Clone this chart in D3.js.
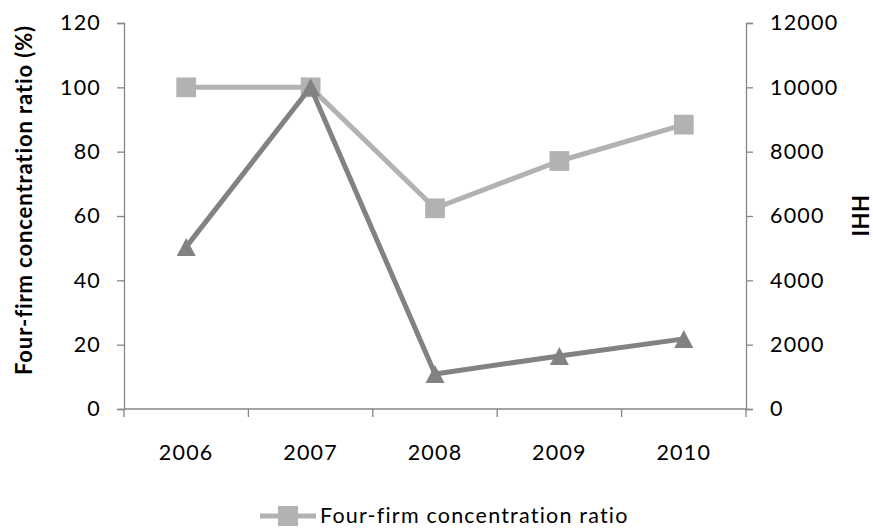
<!DOCTYPE html>
<html>
<head>
<meta charset="utf-8">
<script src="https://cdn.jsdelivr.net/npm/d3@7"></script>
<style>
  html, body { margin: 0; padding: 0; background: #fff; }
  svg { display: block; }
  text { font-family: Lato, "Open Sans", sans-serif; fill: #000; }
</style>
</head>
<body>
<svg id="chart" width="873" height="529"></svg>
<script>
// Market concentration, 2006–2010
const years = ["2006", "2007", "2008", "2009", "2010"];
const fourFirmRatio = [100, 100, 62.4, 77.1, 88.4];   // percent, left axis
const hhi = [5040, 10000, 1090, 1650, 2180];           // right axis
const leftTicks = [0, 20, 40, 60, 80, 100, 120];
const rightTicks = [0, 2000, 4000, 6000, 8000, 10000, 12000];

const svg = d3.select("#chart");
const W = 873, H = 529;
const m = { left: 124, right: 873 - 746, top: 23, bottom: 529 - 409 };

const x = d3.scaleBand().domain(years).range([m.left, W - m.right]);
const yL = d3.scaleLinear().domain([0, 120]).range([H - m.bottom, m.top]);
const yR = d3.scaleLinear().domain([0, 12000]).range([H - m.bottom, m.top]);

const axisColor = "#868686";
const fontSize = 21.5;
const spacing = "1.2px";

function styleAxis(g) {
  g.selectAll(".domain").attr("stroke", axisColor).attr("stroke-width", 1.3);
  g.selectAll(".tick line").attr("stroke", axisColor).attr("stroke-width", 1.3);
  g.selectAll(".tick text")
    .style("font-size", fontSize + "px")
    .style("letter-spacing", spacing);
}

// Left axis
svg.append("g")
  .attr("transform", `translate(${m.left},0)`)
  .call(d3.axisLeft(yL).tickValues(leftTicks).tickFormat(d3.format("d"))
    .tickSize(7).tickSizeOuter(7).tickPadding(16))
  .call(styleAxis);

// Right axis
svg.append("g")
  .attr("transform", `translate(${W - m.right},0)`)
  .call(d3.axisRight(yR).tickValues(rightTicks).tickFormat(d3.format("d"))
    .tickSize(7).tickSizeOuter(7).tickPadding(17))
  .call(styleAxis);

// Bottom axis: ticks on category boundaries
const xAxisG = svg.append("g")
  .attr("transform", `translate(0,${H - m.bottom})`);
xAxisG.append("line")
  .attr("x1", m.left).attr("x2", W - m.right)
  .attr("stroke", axisColor).attr("stroke-width", 1.3);
const bounds = years.map(d => x(d)).concat([x.range()[1]]);
xAxisG.selectAll("line.tk").data(bounds).join("line")
  .attr("class", "tk")
  .attr("x1", d => d).attr("x2", d => d)
  .attr("y1", 0).attr("y2", 8)
  .attr("stroke", axisColor).attr("stroke-width", 1.3);
xAxisG.selectAll("text").data(years).join("text")
  .attr("x", d => x(d) + x.bandwidth() / 2)
  .attr("y", 51)
  .attr("text-anchor", "middle")
  .style("font-size", fontSize + "px")
  .style("letter-spacing", spacing)
  .text(d => d);

// Axis titles
svg.append("text")
  .attr("transform", "translate(32,200) rotate(-90)")
  .attr("text-anchor", "middle")
  .style("font-size", "22px")
  .style("font-weight", "bold")
  .style("letter-spacing", "0.9px")
  .text("Four-firm concentration ratio (%)");

svg.append("text")
  .attr("transform", "translate(852,216) rotate(90)")
  .attr("text-anchor", "middle")
  .style("font-size", "22px")
  .style("font-weight", "bold")
  .style("letter-spacing", "0.6px")
  .text("HHI");

const cx = d => x(d) + x.bandwidth() / 2;

// Four-firm concentration ratio series (squares)
const ratioColor = "#b2b2b2";
svg.append("path")
  .datum(fourFirmRatio)
  .attr("fill", "none")
  .attr("stroke", ratioColor)
  .attr("stroke-width", 5)
  .attr("stroke-linejoin", "round")
  .attr("d", d3.line().x((d, i) => cx(years[i])).y(d => yL(d)));
svg.selectAll("path.sq").data(fourFirmRatio).join("path")
  .attr("class", "sq")
  .attr("transform", (d, i) => `translate(${cx(years[i])},${yL(d)})`)
  .attr("d", d3.symbol(d3.symbolSquare, 390)())
  .attr("fill", ratioColor);

// HHI series (triangles)
const hhiColor = "#828282";
svg.append("path")
  .datum(hhi)
  .attr("fill", "none")
  .attr("stroke", hhiColor)
  .attr("stroke-width", 5)
  .attr("stroke-linejoin", "round")
  .attr("d", d3.line().x((d, i) => cx(years[i])).y(d => yR(d)));
svg.selectAll("path.tri").data(hhi).join("path")
  .attr("class", "tri")
  .attr("transform", (d, i) => `translate(${cx(years[i])},${yR(d)})`)
  .attr("d", () => {
    const s = 19, h = 18;
    return `M0,${-h / 2}L${s / 2},${h / 2}L${-s / 2},${h / 2}Z`;
  })
  .attr("fill", hhiColor);

// Legend
const lg = svg.append("g").attr("transform", "translate(260,516)");
lg.append("line")
  .attr("x1", 0).attr("x2", 56)
  .attr("stroke", ratioColor).attr("stroke-width", 5);
lg.append("path")
  .attr("transform", "translate(28,0)")
  .attr("d", d3.symbol(d3.symbolSquare, 400)())
  .attr("fill", ratioColor);
lg.append("text")
  .attr("x", 60).attr("y", 7)
  .style("font-size", fontSize + "px")
  .style("letter-spacing", spacing)
  .text("Four-firm concentration ratio");
</script>
</body>
</html>
